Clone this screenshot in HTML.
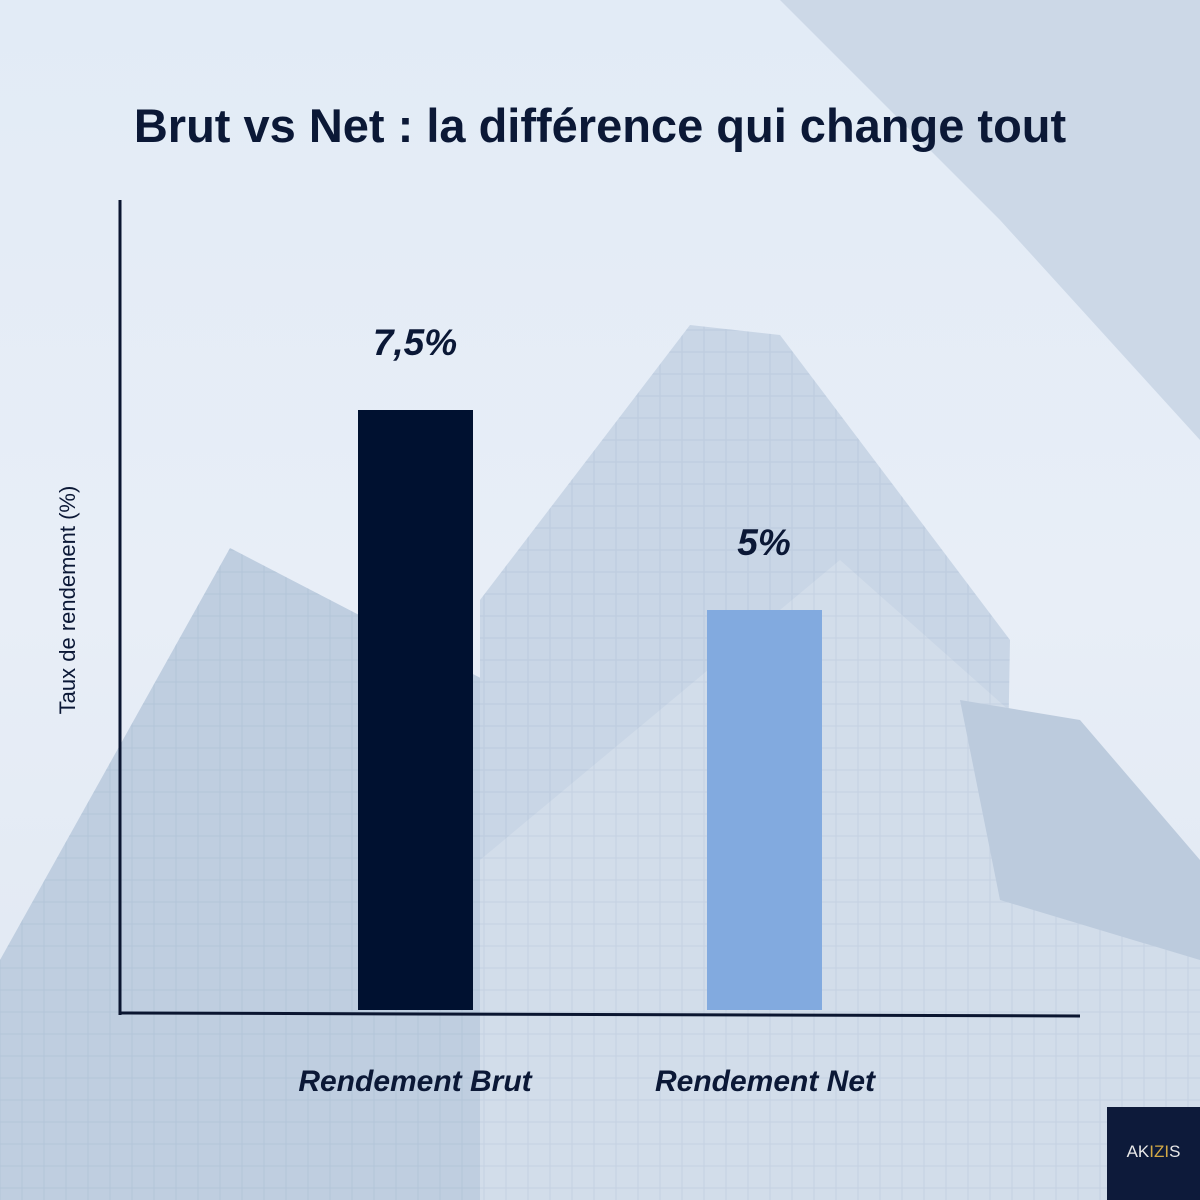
<!DOCTYPE html>
<html><head><meta charset="utf-8"><style>
html,body{margin:0;padding:0}
body{width:1200px;height:1200px;position:relative;overflow:hidden;font-family:"Liberation Sans",sans-serif}
</style></head><body>
<svg width="1200" height="1200" viewBox="0 0 1200 1200" style="position:absolute;left:0;top:0">
<defs>
<linearGradient id="sky" x1="0" y1="0" x2="0" y2="1">
<stop offset="0" stop-color="#e2ebf6"/><stop offset="0.5" stop-color="#e8eef7"/><stop offset="1" stop-color="#dfe7f1"/>
</linearGradient>
<pattern id="grid" width="22" height="22" patternUnits="userSpaceOnUse">
<rect width="22" height="22" fill="none" stroke="#a9bcd3" stroke-width="1.2"/>
</pattern>
</defs>
<rect width="1200" height="1200" fill="url(#sky)"/>
<polygon points="780,0 1200,0 1200,440 1000,220" fill="#ccd8e7"/>
<polygon points="0,960 230,548 600,740 600,1200 0,1200" fill="#bfcee0"/>
<polygon points="0,960 230,548 600,740 600,1200 0,1200" fill="url(#grid)" opacity="0.45"/>
<polygon points="480,600 690,325 780,335 1010,640 1000,1200 480,1200" fill="#c9d6e6"/>
<polygon points="480,600 690,325 780,335 1010,640 1000,1200 480,1200" fill="url(#grid)" opacity="0.35"/>
<polygon points="480,860 840,560 1200,880 1200,1200 480,1200" fill="#d2ddea"/>
<polygon points="480,860 840,560 1200,880 1200,1200 480,1200" fill="url(#grid)" opacity="0.3"/>
<polygon points="960,700 1080,720 1200,860 1200,960 1000,900" fill="#bccbdd"/>
<line x1="120" y1="200" x2="120" y2="1015" stroke="#0a1530" stroke-width="3"/>
<line x1="119" y1="1013" x2="1080" y2="1016" stroke="#0a1530" stroke-width="3"/>
<rect x="358" y="410" width="115" height="600" fill="#001130"/>
<rect x="707" y="610" width="115" height="400" fill="#82aadf"/>
<rect x="1107" y="1107" width="93" height="93" fill="#0d1a3a"/>
</svg>
<div style="position:absolute;left:0;width:1200px;top:98px;text-align:center;font-weight:bold;font-size:47px;color:#0b1836">Brut vs Net : la différence qui change tout</div>
<div style="position:absolute;left:315px;width:200px;top:322px;text-align:center;font-weight:bold;font-style:italic;font-size:37px;color:#0b1836">7,5%</div>
<div style="position:absolute;left:664px;width:200px;top:522px;text-align:center;font-weight:bold;font-style:italic;font-size:37px;color:#0b1836">5%</div>
<div style="position:absolute;left:265px;width:300px;top:1065px;text-align:center;font-weight:bold;font-style:italic;font-size:30px;color:#0b1836">Rendement Brut</div>
<div style="position:absolute;left:615px;width:300px;top:1065px;text-align:center;font-weight:bold;font-style:italic;font-size:30px;color:#0b1836">Rendement Net</div>
<div style="position:absolute;left:-82px;top:587px;width:300px;text-align:center;font-size:22px;color:#0b1836;transform:rotate(-90deg)">Taux de rendement (%)</div>
<div style="position:absolute;left:1107px;top:1142px;width:93px;text-align:center;font-size:17px;color:#e8e8e8">AK<span style="color:#d4aa45">IZI</span>S</div>
</body></html>
